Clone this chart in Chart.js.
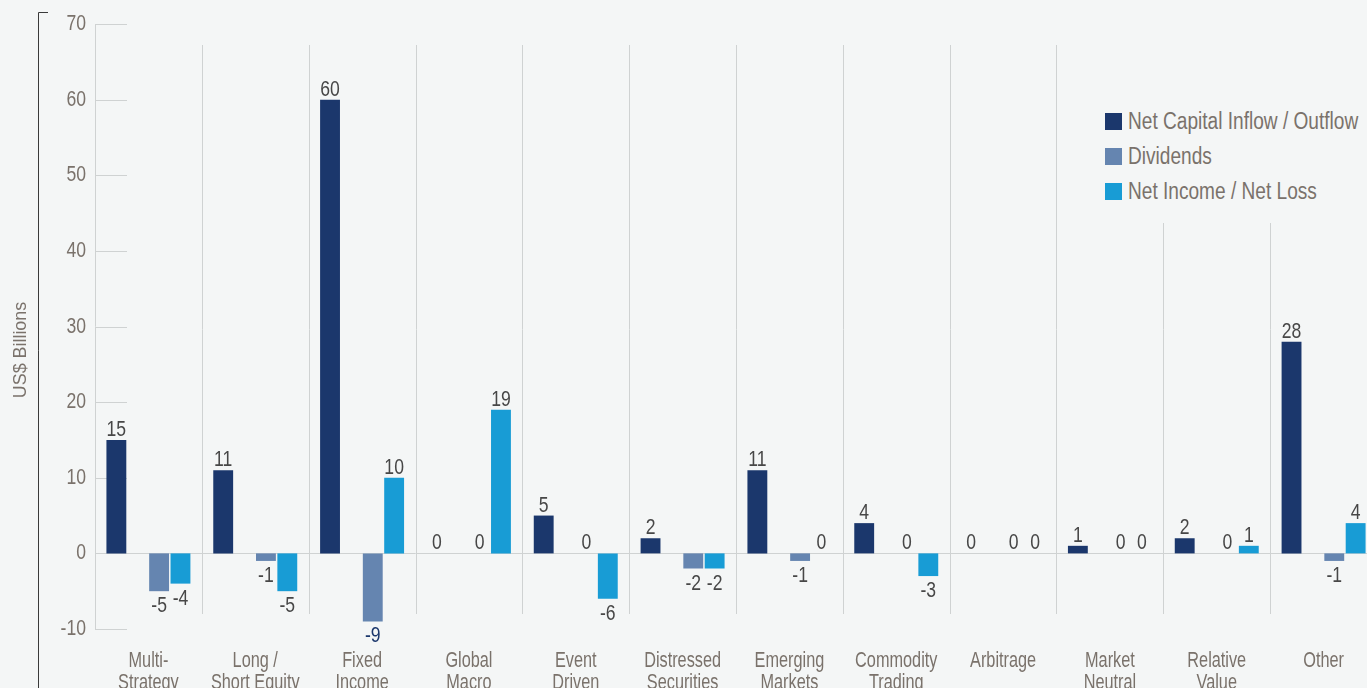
<!DOCTYPE html>
<html>
<head>
<meta charset="utf-8">
<script src="https://cdn.jsdelivr.net/npm/chart.js@4.4.0/dist/chart.umd.min.js"></script>
<style>
    body { margin: 0; width: 1367px; height: 688px; overflow: hidden; position: relative; background: #f4f6f6;
           font-family: 'Liberation Sans', Arial, sans-serif; }
    #grafico { position: absolute; left: 0; top: 0; }
    #leyenda { position: absolute; left: 1092px; top: 40px; width: 275px; height: 183px; background: #f4f6f6; }
    .item { position: absolute; left: 13px; height: 26px; display: flex; align-items: center;
            font-size: 23px; color: #7a726b; white-space: nowrap; }
    .item i { width: 17px; height: 17px; margin-right: 6px; }
    .item span { display: inline-block; transform: scaleX(0.83); transform-origin: left center; }
</style>
</head>
<body>
<canvas id="grafico" width="1377" height="688"></canvas>
<div id="leyenda">
    <div class="item" style="top:68px"><i style="background:#1b376c"></i><span>Net Capital Inflow / Outflow</span></div>
    <div class="item" style="top:103px"><i style="background:#6585b0"></i><span>Dividends</span></div>
    <div class="item" style="top:138px"><i style="background:#189cd5"></i><span>Net Income / Net Loss</span></div>
</div>
<script>
const fuente = "'Liberation Sans', Arial, sans-serif";

const categorias = [
    ['Multi-', 'Strategy'], ['Long /', 'Short Equity'], ['Fixed', 'Income'], ['Global', 'Macro'],
    ['Event', 'Driven'], ['Distressed', 'Securities'], ['Emerging', 'Markets'], ['Commodity', 'Trading'],
    ['Arbitrage'], ['Market', 'Neutral'], ['Relative', 'Value'], ['Other']
];
const flujoNeto   = [15, 11, 60, 0, 5, 2, 11, 4, 0, 1, 2, 28];
const dividendos  = [-5, -1, -9, 0, 0, -2, -1, 0, 0, 0, 0, -1];
const ingresoNeto = [-4, -5, 10, 19, -6, -2, 0, -3, 0, 0, 1, 4];
const ticksY = [-10, 0, 10, 20, 30, 40, 50, 60, 70];

const gris = '#7a726b';
const linea = '#cfd2d2';

// texto angosto: la fuente del original es condensada
function textoEstrecho(ctx, texto, x, y, escala) {
    ctx.save();
    ctx.translate(x, y);
    ctx.scale(escala, 1);
    ctx.fillText(texto, 0, 0);
    ctx.restore();
}

// lineas de fondo, eje izquierdo, rotulos y etiquetas de valor
const decoracion = {
    id: 'decoracion',
    beforeDatasetsDraw(chart) {
        const { ctx, chartArea: a, scales: { x, y } } = chart;
        ctx.save();
        ctx.strokeStyle = linea;
        ctx.lineWidth = 1;
        const paso = x.getPixelForValue(1) - x.getPixelForValue(0);
        for (let i = 0; i <= categorias.length; i++) {
            const px = Math.round(x.getPixelForValue(i) - paso / 2) + 0.5;
            ctx.beginPath();
            if (i === 0) {
                ctx.moveTo(px, a.top);
                ctx.lineTo(px, a.bottom);
            } else {
                ctx.moveTo(px, a.top + 21);
                ctx.lineTo(px, a.bottom - 15);
            }
            ctx.stroke();
        }
        ticksY.forEach(v => {
            const py = Math.round(y.getPixelForValue(v)) + 0.5;
            ctx.beginPath();
            ctx.moveTo(a.left, py);
            ctx.lineTo(v === 0 ? a.right : a.left + 32, py);
            ctx.stroke();
        });

        // corchete del eje
        ctx.strokeStyle = '#3a3a3a';
        ctx.beginPath();
        ctx.moveTo(48, 12.5);
        ctx.lineTo(38.5, 12.5);
        ctx.lineTo(38.5, chart.height);
        ctx.stroke();

        ctx.fillStyle = gris;

        // numeros del eje y
        ctx.font = '22px ' + fuente;
        ctx.textAlign = 'right';
        ctx.textBaseline = 'alphabetic';
        ticksY.forEach(v => textoEstrecho(ctx, String(v), a.left - 9, y.getPixelForValue(v) + 6, 0.8));

        // categorias
        ctx.font = '22px ' + fuente;
        ctx.textAlign = 'center';
        categorias.forEach((lineas, i) => {
            const cx = x.getPixelForValue(i);
            lineas.forEach((t, k) => textoEstrecho(ctx, t, cx, a.bottom + 38 + k * 22, 0.74));
        });

        // titulo del eje y
        ctx.font = '19px ' + fuente;
        ctx.translate(21, 350);
        ctx.rotate(-Math.PI / 2);
        ctx.textBaseline = 'middle';
        textoEstrecho(ctx, 'US$ Billions', 0, 0, 0.94);
        ctx.restore();
    },
    afterDatasetsDraw(chart) {
        const ctx = chart.ctx;
        ctx.save();
        ctx.font = '22px ' + fuente;
        ctx.textAlign = 'center';
        ctx.textBaseline = 'alphabetic';
        [0, 2, 3].forEach(d => {
            chart.getDatasetMeta(d).data.forEach((barra, i) => {
                const v = chart.data.datasets[d].data[i];
                // el -9 de Fixed Income va en azul
                ctx.fillStyle = (d === 2 && i === 2) ? '#1b376c' : '#474747';
                if (v >= 0) textoEstrecho(ctx, String(v), barra.x, barra.y - 4, 0.8);
                else textoEstrecho(ctx, String(v), barra.x, barra.y + 21, 0.8);
            });
        });
        ctx.restore();
    }
};

new Chart(document.getElementById('grafico'), {
    type: 'bar',
    data: {
        labels: categorias,
        datasets: [
            { label: 'Net Capital Inflow / Outflow', data: flujoNeto, backgroundColor: '#1b376c' },
            { label: '', data: categorias.map(() => null) },
            { label: 'Dividends', data: dividendos, backgroundColor: '#6585b0' },
            { label: 'Net Income / Net Loss', data: ingresoNeto, backgroundColor: '#189cd5' }
        ]
    },
    options: {
        responsive: false,
        animation: false,
        categoryPercentage: 0.8,
        barPercentage: 0.93,
        layout: { padding: { top: 24, left: 0, right: 0, bottom: 0 } },
        plugins: { legend: { display: false }, tooltip: { enabled: false } },
        scales: {
            x: {
                grid: { display: false },
                border: { display: false },
                ticks: { display: false },
                afterFit: s => { s.height = 59; }
            },
            y: {
                min: -10,
                max: 70,
                grid: { display: false, drawTicks: false },
                border: { display: false },
                ticks: { display: false, stepSize: 10 },
                afterFit: s => { s.width = 95; }
            }
        }
    },
    plugins: [decoracion]
});
</script>
</body>
</html>
